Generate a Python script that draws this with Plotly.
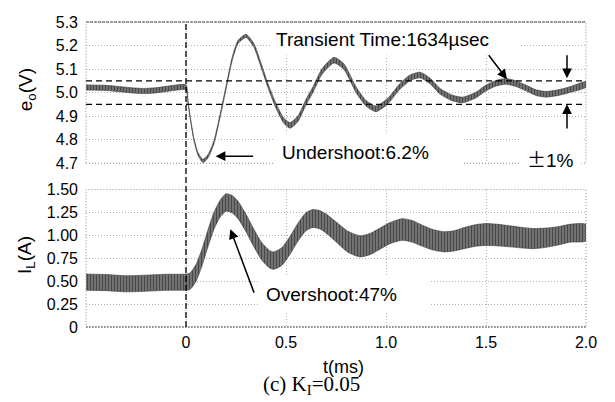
import plotly.graph_objects as go

# ---------------- data ----------------
# output voltage e_o: time (ms), upper / lower ripple envelope (V)
t_eo = [-0.5, -0.4, -0.3, -0.22, -0.15, -0.08, 0.0, 0.01, 0.02, 0.04, 0.06, 0.085,
        0.11, 0.14, 0.17, 0.2, 0.23, 0.26, 0.3, 0.34, 0.37, 0.41, 0.45, 0.49, 0.52,
        0.56, 0.6, 0.635, 0.68, 0.74, 0.79, 0.85, 0.9, 0.95, 1.01, 1.07, 1.12, 1.17,
        1.22, 1.27, 1.33, 1.385, 1.45, 1.5, 1.55, 1.6, 1.65, 1.7, 1.75, 1.8, 1.86,
        1.92, 2.0]
eo_hi = [5.033, 5.031, 5.023, 5.018, 5.021, 5.029, 5.033, 4.966, 4.905, 4.805, 4.746, 4.717,
         4.737, 4.797, 4.907, 5.027, 5.147, 5.222, 5.248, 5.208, 5.139, 5.039, 4.954, 4.891, 4.873,
         4.902, 4.972, 5.025, 5.102, 5.150, 5.122, 5.025, 4.967, 4.943, 4.977, 5.039, 5.075, 5.087,
         5.062, 5.018, 4.990, 4.981, 5.002, 5.032, 5.052, 5.060, 5.050, 5.032, 5.012, 5.005, 5.012,
         5.025, 5.047]
eo_lo = [5.011, 5.009, 5.001, 4.996, 4.999, 5.007, 5.011, 4.954, 4.895, 4.795, 4.734, 4.703,
         4.723, 4.783, 4.893, 5.013, 5.133, 5.208, 5.234, 5.192, 5.121, 5.021, 4.934, 4.869, 4.849,
         4.878, 4.948, 5.001, 5.078, 5.126, 5.098, 5.001, 4.943, 4.919, 4.953, 5.015, 5.051, 5.063,
         5.038, 4.994, 4.966, 4.957, 4.978, 5.008, 5.028, 5.036, 5.026, 5.008, 4.988, 4.981, 4.988,
         5.001, 5.023]

# inductor current I_L: time (ms), upper / lower ripple envelope (A)
t_il = [-0.5, -0.4, -0.3, -0.2, -0.1, 0.0, 0.02, 0.05, 0.08, 0.11, 0.14, 0.17, 0.2, 0.23,
        0.26, 0.3, 0.34, 0.38, 0.42, 0.44, 0.48, 0.52, 0.56, 0.6, 0.635, 0.67, 0.7, 0.76,
        0.81, 0.87, 0.92, 0.97, 1.02, 1.08, 1.13, 1.18, 1.23, 1.29, 1.34, 1.39, 1.45, 1.5,
        1.56, 1.62, 1.68, 1.74, 1.8, 1.86, 1.92, 2.0]
il_hi = [0.578, 0.573, 0.560, 0.566, 0.576, 0.578, 0.590, 0.682, 0.852, 1.062, 1.252, 1.382,
         1.455, 1.437, 1.373, 1.231, 1.064, 0.917, 0.831, 0.820, 0.868, 0.988, 1.133, 1.248,
         1.283, 1.270, 1.235, 1.130, 1.045, 0.995, 1.020, 1.080, 1.140, 1.183, 1.163, 1.113,
         1.067, 1.040, 1.050, 1.085, 1.118, 1.130, 1.121, 1.105, 1.087, 1.075, 1.080, 1.095,
         1.122, 1.120]
il_lo = [0.402, 0.397, 0.384, 0.390, 0.400, 0.402, 0.410, 0.498, 0.668, 0.878, 1.068, 1.198,
         1.265, 1.247, 1.183, 1.041, 0.874, 0.727, 0.641, 0.630, 0.674, 0.794, 0.939, 1.052,
         1.087, 1.070, 1.025, 0.910, 0.815, 0.765, 0.790, 0.850, 0.910, 0.947, 0.927, 0.883,
         0.843, 0.820, 0.830, 0.855, 0.882, 0.890, 0.885, 0.875, 0.863, 0.855, 0.870, 0.895,
         0.926, 0.940]

x_range = [-0.5, 2.0]
x_ticks = [0, 0.5, 1.0, 1.5, 2.0]
x_tick_text = ["0", "0.5", "1.0", "1.5", "2.0"]
eo_range = [4.7, 5.3]
eo_ticks = [4.7, 4.8, 4.9, 5.0, 5.1, 5.2, 5.3]
eo_tick_text = ["4.7", "4.8", "4.9", "5.0", "5.1", "5.2", "5.3"]
il_range = [0, 1.5]
il_ticks = [0, 0.25, 0.5, 0.75, 1.0, 1.25, 1.5]
il_tick_text = ["0", "0.25", "0.50", "0.75", "1.00", "1.25", "1.50"]
band_levels = [4.95, 5.05]   # +-1 % of 5 V
step_time = 0.0

# ---------------- figure ----------------
SANS = "Liberation Sans, Arial, sans-serif"
SERIF = "Liberation Serif, Times New Roman, serif"
GRID = "#b0b0b0"


def band(t, hi, lo, xa, ya):
    return go.Scatter(
        x=list(t) + list(t)[::-1], y=list(hi) + list(lo)[::-1],
        mode="lines", fill="toself",
        line=dict(color="#3c3c3c", width=0.6, shape="spline", smoothing=0.6),
        fillcolor="#7a7a7a",
        fillpattern=dict(shape="|", fgcolor="#101010", bgcolor="#808080", size=3, solidity=0.5),
        xaxis=xa, yaxis=ya, hoverinfo="skip", showlegend=False)


fig = go.Figure()
fig.add_trace(band(t_eo, eo_hi, eo_lo, "x2", "y2"))
fig.add_trace(band(t_il, il_hi, il_lo, "x", "y"))

axis_common = dict(showgrid=True, gridcolor=GRID, griddash="1px,2px", gridwidth=1,
                   zeroline=False, showline=False, ticks="",
                   tickfont=dict(family=SANS, size=16, color="black"))

# the page body adds an 8 px offset, so the figure is 8 px smaller than the window
fig.update_layout(
    width=607, height=394,
    margin=dict(l=78, r=29, t=6, b=75),
    paper_bgcolor="white", plot_bgcolor="white",
    showlegend=False,
    xaxis=dict(domain=[0, 1], anchor="y", range=x_range, tickvals=x_ticks,
               ticktext=x_tick_text, ticklabelstandoff=4, **axis_common),
    yaxis=dict(domain=[0, 0.4505], anchor="x", range=il_range, tickvals=il_ticks,
               ticktext=il_tick_text, ticklabelstandoff=7, **axis_common),
    xaxis2=dict(domain=[0, 1], anchor="y2", range=x_range, tickvals=x_ticks,
                matches="x", showticklabels=False, **axis_common),
    yaxis2=dict(domain=[0.5367, 1], anchor="x2", range=eo_range, tickvals=eo_ticks,
                ticktext=eo_tick_text, ticklabelstandoff=7, **axis_common),
)

shapes = []
# plot-area borders (dotted)
for xa, ya in (("x", "y"), ("x2", "y2")):
    shapes.append(dict(type="rect", xref=f"{xa} domain", yref=f"{ya} domain",
                       x0=0, x1=1, y0=0, y1=1,
                       line=dict(color="#8a8a8a", width=1, dash="1px,2px")))
shapes.append(dict(type="line", xref="x2 domain", yref="y2 domain", x0=0, x1=1, y0=1, y1=1,
                   line=dict(color="#505050", width=1, dash="3px,1px")))
shapes.append(dict(type="line", xref="x domain", yref="y domain", x0=0, x1=1, y0=0, y1=0,
                   line=dict(color="#606060", width=1, dash="2px,1px")))
# +-1 % band
for lv in band_levels:
    shapes.append(dict(type="line", xref="x2 domain", yref="y2", x0=0, x1=1, y0=lv, y1=lv,
                       line=dict(color="black", width=1.3, dash="6px,4px")))
# load step instant
shapes.append(dict(type="line", xref="x", yref="paper", x0=step_time, x1=step_time, y0=0, y1=1,
                   line=dict(color="black", width=1.3, dash="6px,3px")))
fig.update_layout(shapes=shapes)

NB = "&nbsp;"
ann = []
txt_font = dict(family=SANS, size=19, color="black")
ann.append(dict(xref="x2", yref="y2", x=0.42, y=5.2255, xanchor="left", yanchor="middle",
                text="Transient Time:1634µsec" + NB * 5, showarrow=False, font=txt_font,
                bgcolor="white", borderpad=5))
ann.append(dict(xref="x2", yref="y2", x=0.4365, y=4.7456, xanchor="left", yanchor="middle",
                text="Undershoot:6.2%" + NB * 5, showarrow=False, font=txt_font,
                bgcolor="white", borderpad=8))
ann.append(dict(xref="x2", yref="y2", x=1.8215, y=4.7208, xanchor="center", yanchor="middle",
                text="<span style='font-family:Noto Sans CJK JP'>±</span>1%", showarrow=False,
                font=txt_font, bgcolor="white", borderpad=7))
ann.append(dict(xref="x", yref="y", x=0.3615, y=0.3585, xanchor="left", yanchor="middle",
                text="Overshoot:47%" + NB * 5, showarrow=False, font=txt_font,
                bgcolor="white", borderpad=7))

# arrows: (head x, head y, tail x, tail y, xref, yref)
arrows = [
    (0.148, 4.730, 0.343, 4.730, "x2", "y2"),
    (1.605, 5.057, 1.508, 5.165, "x2", "y2"),
    (1.905, 5.061, 1.905, 5.165, "x2", "y2"),
    (1.905, 4.951, 1.905, 4.841, "x2", "y2"),
    (0.2215, 1.068, 0.343, 0.359, "x", "y"),
]
for hx, hy, tx, ty, xr, yr in arrows:
    ann.append(dict(xref=xr, yref=yr, axref=xr, ayref=yr, x=hx, y=hy, ax=tx, ay=ty,
                    text="", showarrow=True, arrowhead=2, arrowsize=1.3, arrowwidth=1.5,
                    arrowcolor="black", standoff=0, startstandoff=0))

# axis titles and caption
ann.append(dict(xref="paper", yref="paper", x=-0.118, y=0.776, xanchor="center", yanchor="middle",
                text="e<sub>o</sub>(V)", textangle=-90, showarrow=False,
                font=dict(family=SANS, size=19, color="black")))
ann.append(dict(xref="paper", yref="paper", x=-0.12, y=0.236, xanchor="center", yanchor="middle",
                text="I<sub>L</sub>(A)", textangle=-90, showarrow=False,
                font=dict(family=SANS, size=19, color="black")))
ann.append(dict(xref="paper", yref="paper", x=0.514, y=-0.13, xanchor="center", yanchor="middle",
                text="t(ms)", showarrow=False, font=dict(family=SANS, size=18, color="black")))
ann.append(dict(xref="paper", yref="paper", x=0.45, y=-0.19, xanchor="center", yanchor="middle",
                text="(c) K<sub>I</sub>=0.05", showarrow=False,
                font=dict(family=SERIF, size=21, color="black")))
fig.update_layout(annotations=ann)

fig.write_html("out.html")
